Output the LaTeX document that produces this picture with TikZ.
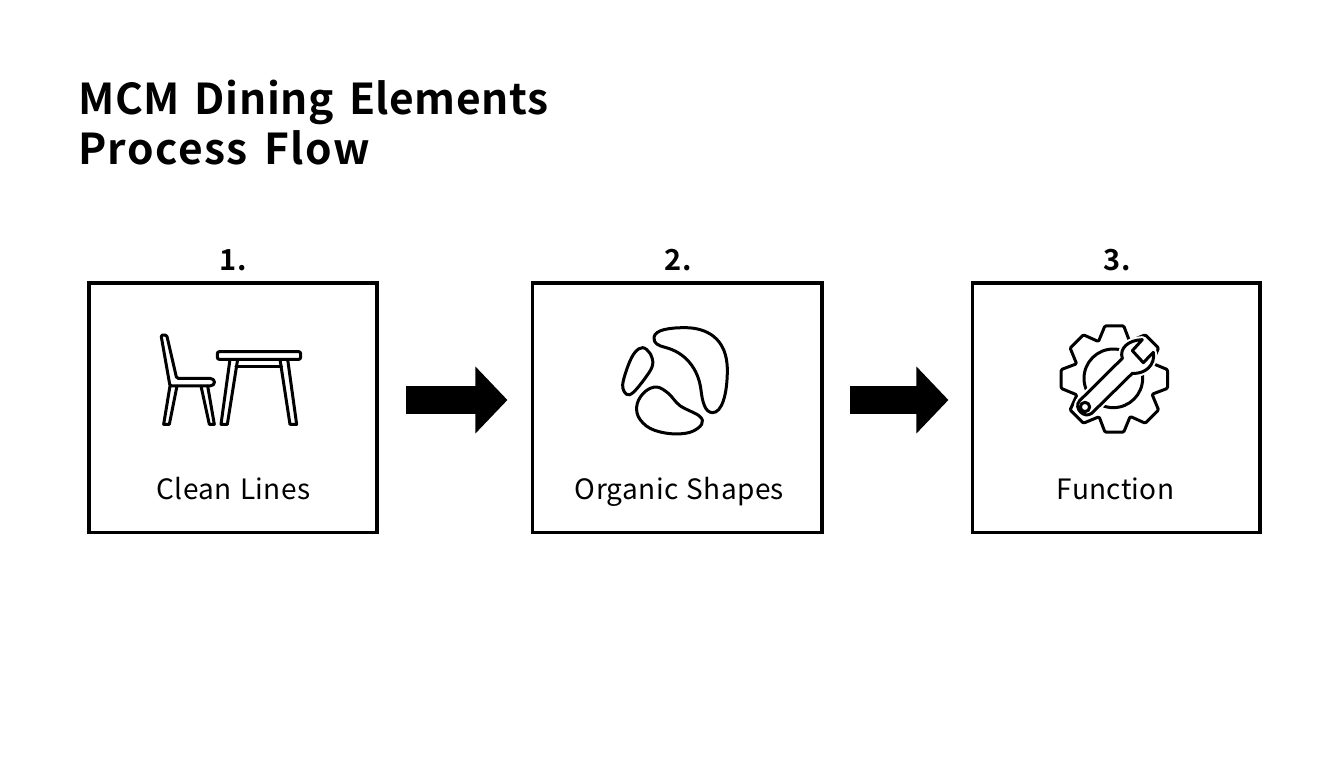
\documentclass[tikz,border=0pt]{standalone}
\usepackage{fontspec}
\setmainfont{Noto Sans CJK JP}
\usetikzlibrary{arrows.meta,calc}
\newfontfamily\ttlfont[LetterSpace=1.3,WordSpace=1.5]{Noto Sans CJK JP Bold}
\newfontfamily\ttlfontb[LetterSpace=3.4,WordSpace=1.5]{Noto Sans CJK JP Bold}
\newfontfamily\numfont[LetterSpace=2.5]{Noto Sans CJK JP Bold}
\newfontfamily\lblfont[LetterSpace=1.2,WordSpace=1.3]{Noto Sans CJK JP}
\tikzset{
 stagebox/.style={draw=black,line width=3.6pt,fill=white,minimum width=#1,minimum height=249.6pt,outer sep=0pt,inner sep=0pt},
 stagenum/.style={anchor=base,font=\numfont\fontsize{29}{34}\selectfont,text=black,inner sep=0pt},
 stagelabel/.style={anchor=base,font=\lblfont\fontsize{28}{32}\selectfont,text=black,inner sep=0pt},
 titletext/.style={anchor=base west,inner sep=0pt,text=black},
 flowarrow/.style={line width=28pt,black,-{Triangle[length=32pt,width=65pt]}},
 icon/.style={line width=3pt,black,line join=round,line cap=round},
 izoom/.style={x=0.3333pt,y=-0.3333pt},
}
\begin{document}
\begin{tikzpicture}[x=1pt,y=-1pt]
\useasboundingbox[fill=white] (0,0) rectangle (1344,768);
\node[titletext,font=\ttlfont\fontsize{42.5}{50}\selectfont] (title1) at (78,114.5) {MCM Dining Elements};
\node[titletext,font=\ttlfontb\fontsize{42.5}{50}\selectfont] (title2) at (78,164.5) {Process Flow};

\node[stagebox=288.2pt] (box1) at (232.9,407.5) {};
\node[stagebox=289.5pt] (box2) at (677.2,407.5) {};
\node[stagebox=287.5pt] (box3) at (1116.2,407.5) {};

\node[stagenum] (n1) at (233.5,270.5) {1.};
\node[stagenum] (n2) at (678.5,270.5) {2.};
\node[stagenum] (n3) at (1117.5,270.5) {3.};
\node[stagelabel] (l1) at (233.5,499) {Clean Lines};
\node[stagelabel] (l2) at (679.5,499) {Organic Shapes};
\node[stagelabel] (l3) at (1115.5,499) {Function};

\draw[flowarrow,shorten <=29pt,shorten >=25pt] ([yshift=7.5pt]box1.east) -- ([yshift=7.5pt]box2.west);
\draw[flowarrow,shorten <=28pt,shorten >=24pt] ([yshift=7.5pt]box2.east) -- ([yshift=7.5pt]box3.west);

% chair and table
\begin{scope}[shift={(140,320)},izoom,icon]
 \draw[rounded corners=1.5pt] (63,45) -- (80,45) -- (110,175) -- (205,175) .. controls (228,175) and (228,198) .. (205,198) -- (90,198) -- cycle;
 \draw (90,198) -- (71,313) -- (88,313) -- (111,198);
 \draw (183,198) -- (208,313) -- (223,313) -- (203,198);
 \draw[rounded corners=2pt] (232,95) rectangle (482,118);
 \draw (270,118) -- (243,313) -- (262,313) -- (293,118);
 \draw (420,118) -- (450,313) -- (470,313) -- (443,118);
 \draw (288,140) -- (425,140);
\end{scope}

% organic shapes
\begin{scope}[shift={(600,315)},izoom,icon]
 \draw (162,67) .. controls (165,45) and (205,38) .. (255,38)
   .. controls (320,38) and (382,70) .. (382,165)
   .. controls (382,240) and (365,293) .. (338,293)
   .. controls (315,293) and (307,260) .. (303,225)
   .. controls (295,160) and (255,112) .. (195,97)
   .. controls (175,92) and (160,85) .. (162,67) -- cycle;
 \draw plot[smooth cycle,tension=0.6] coordinates {(128,98) (150,115) (158,150) (135,190) (100,232) (80,238) (68,210) (85,150) (105,112)};
 \draw plot[smooth cycle,tension=0.6] coordinates {(170,216) (205,235) (240,272) (298,303) (305,328) (270,352) (210,356) (150,340) (115,305) (112,265) (135,230)};
\end{scope}

% gear and wrench
\begin{scope}[shift={(1045,315)},izoom,icon]
 \coordinate (gc) at (208,192);
 \draw[rounded corners=1.2pt]
  ($(gc)+(80:162)$) -- ($(gc)+(100:162)$) -- ($(gc)+(112:122)$)
  -- ($(gc)+(125:162)$) -- ($(gc)+(145:162)$) -- ($(gc)+(157:122)$)
  -- ($(gc)+(170:162)$) -- ($(gc)+(190:162)$) -- ($(gc)+(202:122)$)
  -- ($(gc)+(215:162)$) -- ($(gc)+(235:162)$) -- ($(gc)+(247:122)$)
  -- ($(gc)+(260:162)$) -- ($(gc)+(280:162)$) -- ($(gc)+(292:122)$)
  -- ($(gc)+(305:162)$) -- ($(gc)+(325:162)$) -- ($(gc)+(337:122)$)
  -- ($(gc)+(350:162)$) -- ($(gc)+(10:162)$) -- ($(gc)+(22:122)$)
  -- ($(gc)+(35:162)$) -- ($(gc)+(55:162)$) -- ($(gc)+(67:122)$) -- cycle;
 \draw (205,190) circle[radius=88];
 \path[fill=white,draw=white,line width=7pt] (103,258) -- (232,130) .. controls (222,100) and (250,75) .. (292,74) -- (262,107) -- (295,143) -- (325,112) .. controls (332,150) and (300,178) .. (262,175) -- (140,295) .. controls (118,312) and (85,280) .. (103,258) -- cycle;
 \draw (103,258) -- (232,130) .. controls (222,100) and (250,75) .. (292,74) -- (262,107) -- (295,143) -- (325,112) .. controls (332,150) and (300,178) .. (262,175) -- (140,295) .. controls (118,312) and (85,280) .. (103,258) -- cycle;
 \draw (120,276) circle[radius=14];
\end{scope}
\end{tikzpicture}
\end{document}
